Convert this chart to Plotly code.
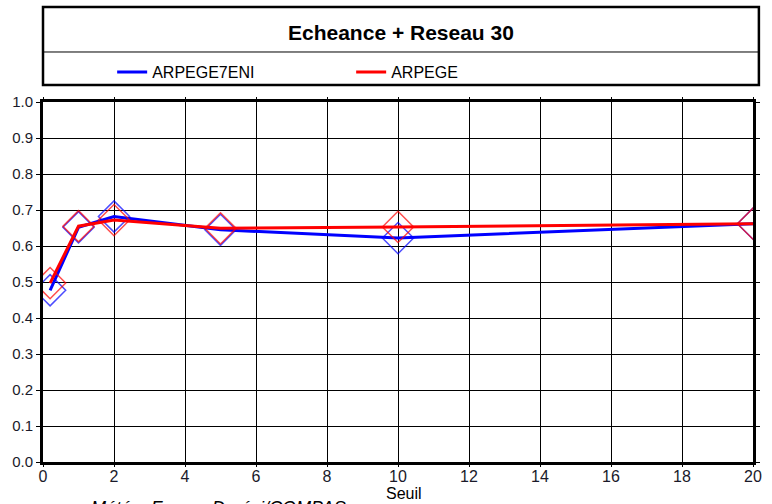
import plotly.graph_objects as go

seuil = [0.2, 1, 2, 5, 10, 20]
arpege7eni = [0.477, 0.652, 0.682, 0.645, 0.622, 0.662]
arpege = [0.497, 0.655, 0.672, 0.649, 0.653, 0.662]
x_ticks = list(range(0, 21, 2))
y_ticks = [round(i * 0.1, 1) for i in range(11)]

FONT = "Liberation Sans, Arial, sans-serif"

fig = go.Figure()
series = [("ARPEGE7ENI", arpege7eni, "#0000ff"), ("ARPEGE", arpege, "#ff0000")]
for name, vals, col in series:
    fig.add_trace(go.Scatter(
        x=seuil, y=vals, mode="lines+markers", name=name, showlegend=False,
        line=dict(color=col, width=3),
        marker=dict(symbol="diamond-open", size=24, color=col, opacity=0.7,
                    line=dict(width=1.5, color=col)),
    ))
for name, vals, col in series:
    fig.add_trace(go.Scatter(
        x=[None], y=[None], mode="lines", name=name,
        line=dict(color=col, width=3),
    ))

axis_common = dict(
    showline=True, linecolor="black", linewidth=3, mirror="allticks",
    showgrid=True, gridcolor="black", gridwidth=1,
    ticks="outside", tickcolor="black", tickwidth=1,
    zeroline=False,
)

fig.update_layout(
    width=772, height=504,
    margin=dict(l=43, r=10, t=102, b=42),
    paper_bgcolor="white", plot_bgcolor="white",
    font=dict(family=FONT, color="black"),
    xaxis=dict(range=[0, 20], tickvals=x_ticks, ticktext=[str(v) for v in x_ticks], ticklen=2,
               ticklabelstandoff=-4,
               tickfont=dict(family=FONT, size=16, color="#1a1a2a"), **axis_common),
    yaxis=dict(range=[0, 1.0], tickvals=y_ticks, ticktext=[f"{v:.1f}" for v in y_ticks], ticklen=4,
               tickfont=dict(family=FONT, size=15, color="#1a1a2a"), **axis_common),
    legend=dict(orientation="h", x=0.0974, y=1.083, xanchor="left", yanchor="middle",
                entrywidth=194, entrywidthmode="pixels", itemwidth=30,
                font=dict(family=FONT, size=16, color="black"),
                bgcolor="rgba(0,0,0,0)"),
    shapes=[
        dict(type="rect", xref="paper", yref="paper", x0=0, x1=1.0083, y0=1.0472, y1=1.2639,
             line=dict(color="black", width=2.5), fillcolor="rgba(0,0,0,0)", layer="below"),
        dict(type="line", xref="paper", yref="paper", x0=0, x1=1.0083, y0=1.1389, y1=1.1389,
             line=dict(color="black", width=1)),
    ],
    annotations=[
        dict(text="<b>Echeance + Reseau 30</b>", xref="paper", yref="paper", x=0.504, y=1.194,
             showarrow=False, xanchor="center", yanchor="middle",
             font=dict(family=FONT, size=21, color="black")),
        dict(text="Seuil", xref="paper", yref="paper", x=0.508, y=-0.0875,
             showarrow=False, xanchor="center", yanchor="middle",
             font=dict(family=FONT, size=16, color="black")),
        dict(text="<i>Météo–France Dprévi/COMPAS</i>", xref="paper", yref="paper", x=0.247, y=-0.095,
             showarrow=False, xanchor="center", yanchor="top",
             font=dict(family=FONT, size=18, color="black")),
    ],
)

fig.write_html("out.html")
